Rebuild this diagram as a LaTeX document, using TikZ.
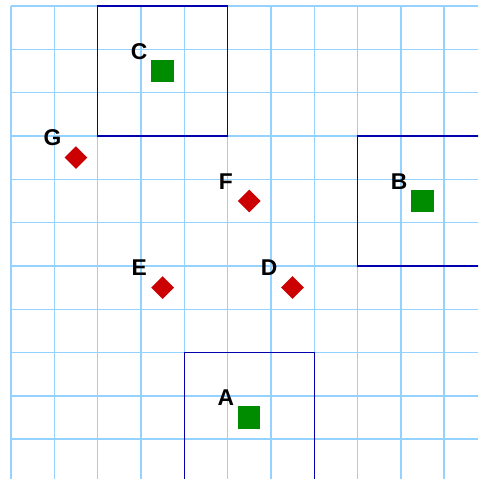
\documentclass[tikz,border=0pt]{standalone}
\usepackage{fontspec}
\setmainfont{Liberation Sans}
\usepackage{tikz}
\usetikzlibrary{positioning,shapes.geometric,calc}
\definecolor{gridblue}{RGB}{150,210,255}
\definecolor{framenavy}{RGB}{0,0,175}
\definecolor{sitegreen}{RGB}{0,140,0}
\definecolor{pointred}{RGB}{204,0,0}

\begin{document}
\begin{tikzpicture}[
  every node/.style={font=\fontsize{15}{18}\selectfont\bfseries},
  gridline/.style={draw=gridblue, line width=0.9pt},
  zone/.style={rectangle, draw=framenavy, line width=0.85pt, minimum size=3cm, inner sep=0pt},
  site/.style={rectangle, fill=sitegreen, minimum size=0.52cm, inner sep=0pt},
  point/.style={diamond, fill=pointred, minimum size=0.53cm, inner sep=0pt},
  tag/.style={inner sep=0pt}
]
  \useasboundingbox (-0.254,-0.92) rectangle (10.785,10.139);
  \clip (-0.254,-0.92) rectangle (10.785,10.139);

  % background grid
  \draw[gridline] (0,-0.92) grid (10.785,10);

  % green sites with their zones
  \node[site] (sqA) at (5.5,0.5) {};
  \node[site] (sqB) at (9.5,5.5) {};
  \node[site] (sqC) at (3.5,8.5) {};
  \node[zone] (zoneA) at (sqA) {};
  \node[zone] (zoneB) at (sqB) {};
  \node[zone] (zoneC) at (sqC) {};

  % red points
  \node[point] (ptD) at (6.5,3.5) {};
  \node[point] (ptE) at (3.5,3.5) {};
  \node[point] (ptF) at (5.5,5.5) {};
  \node[point] (ptG) at (1.5,6.5) {};

  % letters
  \foreach \n/\t in {sqA/A, sqB/B, sqC/C, ptD/D, ptE/E, ptF/F, ptG/G}
    \node[tag] (tag\t) at ($(\n)+(-0.54,0.45)$) {\t};
\end{tikzpicture}
\end{document}
